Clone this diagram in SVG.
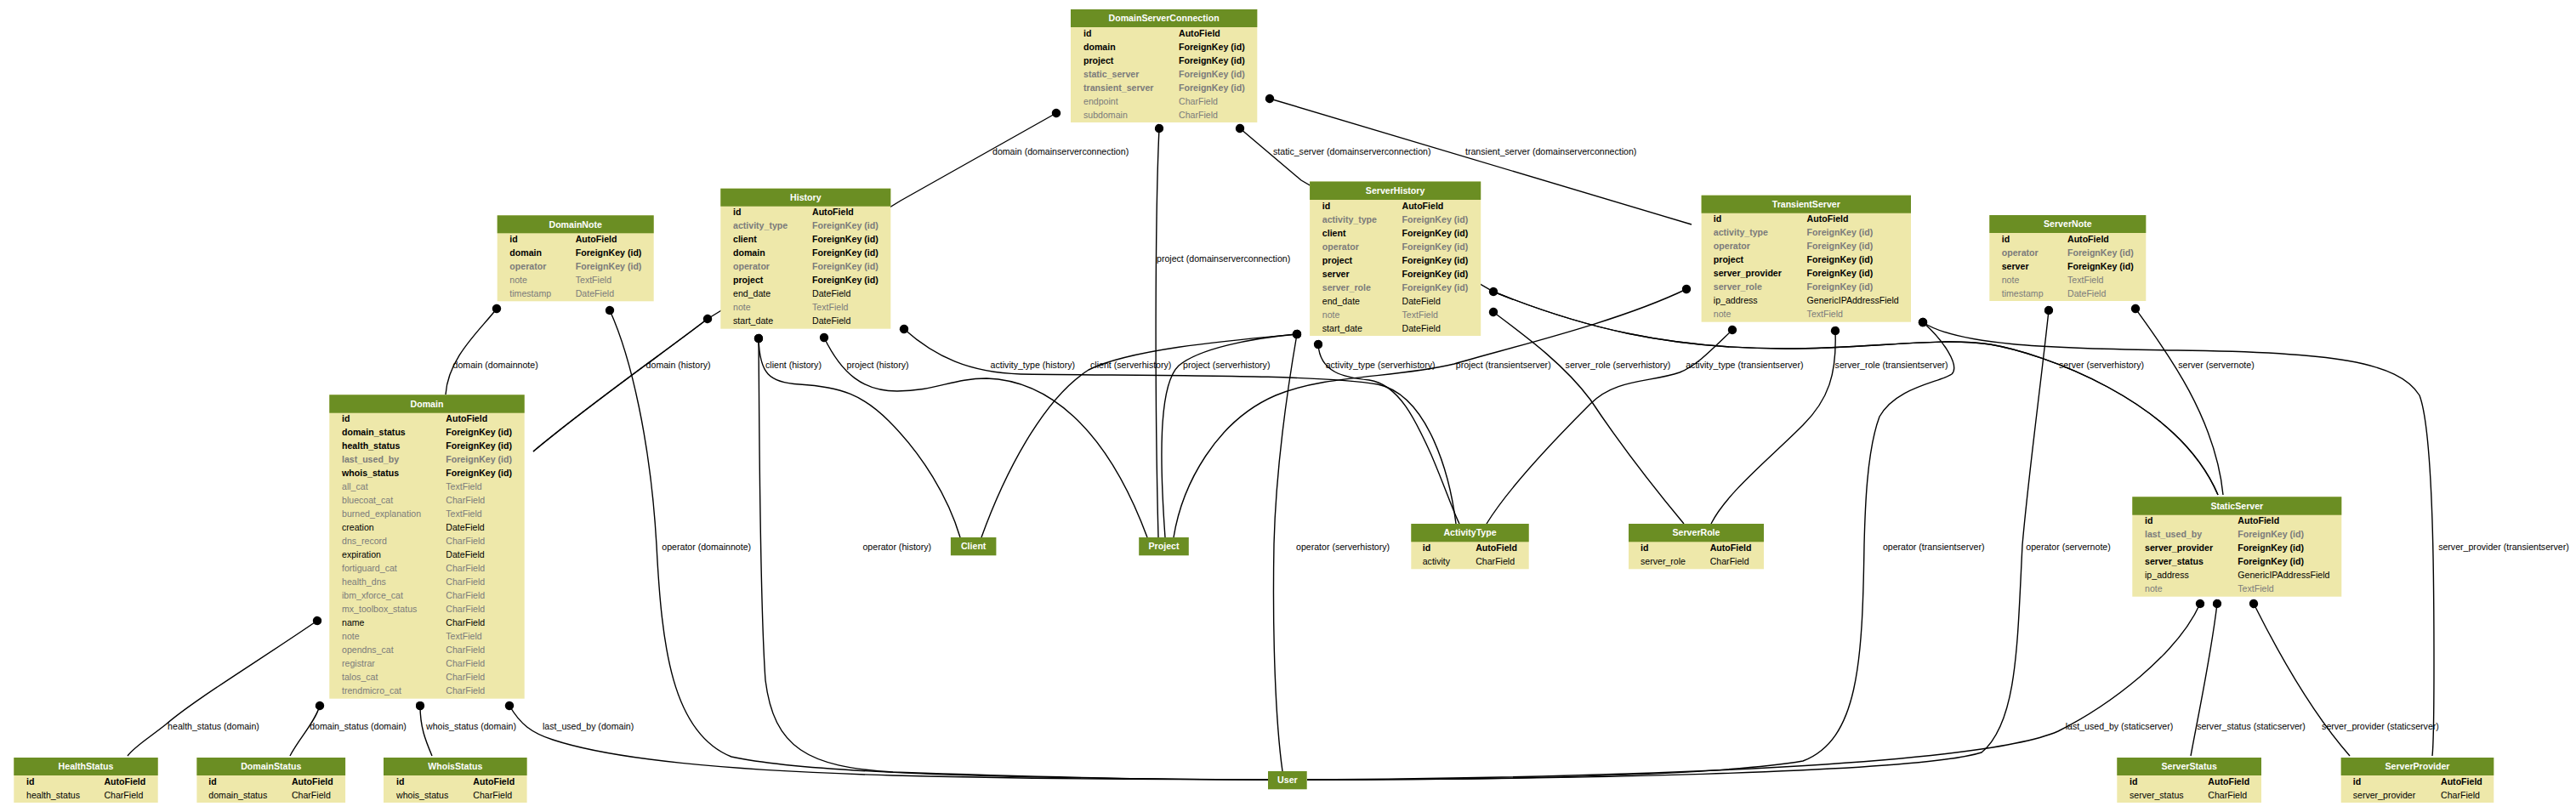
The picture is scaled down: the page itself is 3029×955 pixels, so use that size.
<svg xmlns="http://www.w3.org/2000/svg" width="3029" height="955" viewBox="0 0 3029 955">
<style>
text{font-family:"Liberation Sans",Arial,Helvetica,sans-serif;font-size:10.6px}
.h{fill:#6b8e23}
.b{fill:#eee8aa}
.ht{fill:#fff;font-weight:bold;text-anchor:middle}
.k{fill:#000;font-weight:bold}
.kg{fill:#7b7b7b;font-weight:bold}
.n{fill:#000}
.g{fill:#7b7b7b}
.lbl{fill:#000}
.m{text-anchor:middle}
.en{text-anchor:end}
.e{fill:none;stroke:#000;stroke-width:1.4;marker-start:url(#dot)}
.e2{fill:none;stroke:#000;stroke-width:1.4}
</style>
<defs>
<marker id="dot" viewBox="-5.5 -5.5 11 11" markerWidth="11" markerHeight="11" markerUnits="userSpaceOnUse" refX="0" refY="0" orient="auto"><circle r="5.2" fill="#000"/></marker>
</defs>
<rect width="3029" height="955" fill="#fff"/>
<g id="connectors">
<path class="e" d="M1242,133 L1059,236 L832,375 C780,415 690,478 627,531"/>
<path class="e" d="M1363,151 C1358,260 1358,480 1362,632"/>
<path class="e" d="M1458,151 L1530,212 L1756,343 C1860,385 1960,410 2100,410 C2200,410 2280,396 2340,405 C2400,415 2560,470 2608,582"/>
<path class="e" d="M1493,116 L1989,264"/>
<path class="e" d="M832,375 C780,415 690,478 627,531"/>
<path class="e" d="M892,398 C893,440 905,450 940,452 C990,455 1015,465 1045,495 C1085,535 1115,585 1129,632"/>
<path class="e" d="M969,397 C990,440 1015,460 1055,460 C1100,460 1120,445 1160,445 C1230,447 1300,500 1349,632"/>
<path class="e" d="M1063,387 C1100,420 1140,438 1200,440 C1350,442 1550,440 1620,452 C1680,465 1705,560 1712,616"/>
<path class="e" d="M892,398 C893,500 893,700 900,800 C910,880 950,902 1050,908 C1250,915 1400,917 1491,917"/>
<path class="e" d="M584,363 C565,388 527,420 524,464"/>
<path class="e" d="M717,365 C742,420 765,520 772,641 C778,760 790,862 860,890 C960,912 1250,916 1491,917"/>
<path class="e" d="M1525,393 C1450,400 1330,410 1280,435 C1225,470 1180,560 1154,632"/>
<path class="e" d="M1525,393 C1470,398 1410,410 1386,430 C1365,450 1362,520 1370,632"/>
<path class="e" d="M1525,393 C1510,480 1500,560 1498,640 C1496,750 1500,850 1508,907"/>
<path class="e" d="M1550,405 C1552,438 1580,444 1610,447 C1645,452 1665,495 1683,535 C1700,575 1708,600 1716,616"/>
<path class="e" d="M1756,343 C1860,385 1960,410 2100,410 C2200,410 2280,396 2340,405 C2400,415 2560,470 2608,582"/>
<path class="e" d="M1756,367 C1800,400 1840,430 1870,470 C1910,530 1950,580 1980,616"/>
<path class="e" d="M1983,340 C1900,380 1770,410 1710,428 C1640,445 1560,440 1500,465 C1430,495 1390,570 1380,632"/>
<path class="e" d="M2037,388 C2012,412 1995,430 1975,438 C1940,450 1900,445 1870,475 C1820,525 1770,580 1748,616"/>
<path class="e" d="M2158,389 C2160,440 2150,470 2120,500 C2080,540 2030,580 2012,616"/>
<path class="e" d="M2261,379 C2285,400 2305,430 2295,440 C2280,450 2230,455 2210,490 C2195,530 2193,600 2192,641 C2190,780 2185,870 2120,895 C2000,915 1700,917 1537,917"/>
<path class="e" d="M2261,379 C2300,405 2400,410 2560,412 C2740,414 2820,425 2845,465 C2862,510 2862,700 2862,780 C2862,840 2862,870 2860,889"/>
<path class="e" d="M2409,365 C2400,450 2385,560 2378,641 C2372,760 2372,850 2330,885 C2250,910 1800,917 1537,917"/>
<path class="e" d="M2511,363 C2545,410 2605,490 2614,582"/>
<path class="e" d="M373,730 C300,780 230,822 195,852 C175,868 158,878 150,889"/>
<path class="e" d="M376,830 C370,850 352,868 341,889"/>
<path class="e" d="M494,830 C494,855 500,870 508,889"/>
<path class="e" d="M599,830 C612,852 625,862 650,870 C720,893 850,906 1050,912 C1250,917 1400,917 1491,917"/>
<path class="e" d="M2587,710 C2560,770 2480,830 2420,860 C2340,895 2000,914 1537,917"/>
<path class="e" d="M2607,710 C2600,770 2585,840 2576,889"/>
<path class="e" d="M2650,710 C2680,770 2720,840 2763,889"/>
</g>
<g id="edge-labels" class="lbl">
<text x="1167" y="182.3">domain (domainserverconnection)</text>
<text x="1497" y="182.3">static_server (domainserverconnection)</text>
<text x="1723" y="182.3">transient_server (domainserverconnection)</text>
<text x="1360" y="308.1">project (domainserverconnection)</text>
<text class="en" x="632.7" y="433.1">domain (domainnote)</text>
<text x="759.6" y="433.1">domain (history)</text>
<text x="900" y="433.1">client (history)</text>
<text x="995.6" y="433.1">project (history)</text>
<text x="1164.6" y="433.1">activity_type (history)</text>
<text x="1282" y="433.1">client (serverhistory)</text>
<text x="1391" y="433.1">project (serverhistory)</text>
<text class="en" x="1687.6" y="433.1">activity_type (serverhistory)</text>
<text x="1711.8" y="433.1">project (transientserver)</text>
<text x="1840.6" y="433.1">server_role (serverhistory)</text>
<text x="1982.2" y="433.1">activity_type (transientserver)</text>
<text x="2157.6" y="433.1">server_role (transientserver)</text>
<text x="2421" y="433.1">server (serverhistory)</text>
<text class="m" x="2606" y="433.1">server (servernote)</text>
<text class="m" x="830.7" y="646.8">operator (domainnote)</text>
<text class="m" x="1054.8" y="646.8">operator (history)</text>
<text x="1524" y="646.8">operator (serverhistory)</text>
<text class="m" x="2273.7" y="646.8">operator (transientserver)</text>
<text class="m" x="2432" y="646.8">operator (servernote)</text>
<text class="m" x="2944" y="646.8">server_provider (transientserver)</text>
<text class="m" x="251" y="857.7">health_status (domain)</text>
<text class="m" x="421" y="857.7">domain_status (domain)</text>
<text class="m" x="554" y="857.7">whois_status (domain)</text>
<text class="m" x="691.6" y="857.7">last_used_by (domain)</text>
<text class="m" x="2492" y="857.7">last_used_by (staticserver)</text>
<text class="m" x="2647" y="857.7">server_status (staticserver)</text>
<text class="m" x="2799" y="857.7">server_provider (staticserver)</text>
</g>
<g id="DomainServerConnection">
<rect class="b" x="1259" y="11" width="219.3" height="133"/>
<rect class="h" x="1259" y="11" width="219.3" height="21"/>
<text class="ht" x="1368.6" y="25.2">DomainServerConnection</text>
<text class="k" x="1274" y="43.1">id</text><text class="k" x="1386" y="43.1">AutoField</text>
<text class="k" x="1274" y="59.1">domain</text><text class="k" x="1386" y="59.1">ForeignKey (id)</text>
<text class="k" x="1274" y="75.1">project</text><text class="k" x="1386" y="75.1">ForeignKey (id)</text>
<text class="kg" x="1274" y="91.1">static_server</text><text class="kg" x="1386" y="91.1">ForeignKey (id)</text>
<text class="kg" x="1274" y="107.1">transient_server</text><text class="kg" x="1386" y="107.1">ForeignKey (id)</text>
<text class="g" x="1274" y="123.1">endpoint</text><text class="g" x="1386" y="123.1">CharField</text>
<text class="g" x="1274" y="139.1">subdomain</text><text class="g" x="1386" y="139.1">CharField</text>
</g>
<g id="History">
<rect class="b" x="847.3" y="221.7" width="200" height="165"/>
<rect class="h" x="847.3" y="221.7" width="200" height="21"/>
<text class="ht" x="947.3" y="235.9">History</text>
<text class="k" x="862" y="253.3">id</text><text class="k" x="955" y="253.3">AutoField</text>
<text class="kg" x="862" y="269.3">activity_type</text><text class="kg" x="955" y="269.3">ForeignKey (id)</text>
<text class="k" x="862" y="285.3">client</text><text class="k" x="955" y="285.3">ForeignKey (id)</text>
<text class="k" x="862" y="301.3">domain</text><text class="k" x="955" y="301.3">ForeignKey (id)</text>
<text class="kg" x="862" y="317.3">operator</text><text class="kg" x="955" y="317.3">ForeignKey (id)</text>
<text class="k" x="862" y="333.3">project</text><text class="k" x="955" y="333.3">ForeignKey (id)</text>
<text class="n" x="862" y="349.3">end_date</text><text class="n" x="955" y="349.3">DateField</text>
<text class="g" x="862" y="365.3">note</text><text class="g" x="955" y="365.3">TextField</text>
<text class="n" x="862" y="381.3">start_date</text><text class="n" x="955" y="381.3">DateField</text>
</g>
<g id="DomainNote">
<rect class="b" x="584.7" y="253.3" width="184" height="101"/>
<rect class="h" x="584.7" y="253.3" width="184" height="21"/>
<text class="ht" x="676.7" y="267.5">DomainNote</text>
<text class="k" x="599.3" y="284.9">id</text><text class="k" x="676.7" y="284.9">AutoField</text>
<text class="k" x="599.3" y="300.9">domain</text><text class="k" x="676.7" y="300.9">ForeignKey (id)</text>
<text class="kg" x="599.3" y="316.9">operator</text><text class="kg" x="676.7" y="316.9">ForeignKey (id)</text>
<text class="g" x="599.3" y="332.9">note</text><text class="g" x="676.7" y="332.9">TextField</text>
<text class="g" x="599.3" y="348.9">timestamp</text><text class="g" x="676.7" y="348.9">DateField</text>
</g>
<g id="ServerHistory">
<rect class="b" x="1540.1" y="213.5" width="201.1" height="181.5"/>
<rect class="h" x="1540.1" y="213.5" width="201.1" height="21.5"/>
<text class="ht" x="1640.6" y="227.9">ServerHistory</text>
<text class="k" x="1554.8" y="245.6">id</text><text class="k" x="1648.5" y="245.6">AutoField</text>
<text class="kg" x="1554.8" y="261.6">activity_type</text><text class="kg" x="1648.5" y="261.6">ForeignKey (id)</text>
<text class="k" x="1554.8" y="277.6">client</text><text class="k" x="1648.5" y="277.6">ForeignKey (id)</text>
<text class="kg" x="1554.8" y="293.6">operator</text><text class="kg" x="1648.5" y="293.6">ForeignKey (id)</text>
<text class="k" x="1554.8" y="309.6">project</text><text class="k" x="1648.5" y="309.6">ForeignKey (id)</text>
<text class="k" x="1554.8" y="325.6">server</text><text class="k" x="1648.5" y="325.6">ForeignKey (id)</text>
<text class="kg" x="1554.8" y="341.6">server_role</text><text class="kg" x="1648.5" y="341.6">ForeignKey (id)</text>
<text class="n" x="1554.8" y="357.6">end_date</text><text class="n" x="1648.5" y="357.6">DateField</text>
<text class="g" x="1554.8" y="373.6">note</text><text class="g" x="1648.5" y="373.6">TextField</text>
<text class="n" x="1554.8" y="389.6">start_date</text><text class="n" x="1648.5" y="389.6">DateField</text>
</g>
<g id="TransientServer">
<rect class="b" x="2000.6" y="229.7" width="246.4" height="149"/>
<rect class="h" x="2000.6" y="229.7" width="246.4" height="21"/>
<text class="ht" x="2123.8" y="243.9">TransientServer</text>
<text class="k" x="2014.8" y="261.3">id</text><text class="k" x="2124.6" y="261.3">AutoField</text>
<text class="kg" x="2014.8" y="277.3">activity_type</text><text class="kg" x="2124.6" y="277.3">ForeignKey (id)</text>
<text class="kg" x="2014.8" y="293.3">operator</text><text class="kg" x="2124.6" y="293.3">ForeignKey (id)</text>
<text class="k" x="2014.8" y="309.3">project</text><text class="k" x="2124.6" y="309.3">ForeignKey (id)</text>
<text class="k" x="2014.8" y="325.3">server_provider</text><text class="k" x="2124.6" y="325.3">ForeignKey (id)</text>
<text class="kg" x="2014.8" y="341.3">server_role</text><text class="kg" x="2124.6" y="341.3">ForeignKey (id)</text>
<text class="n" x="2014.8" y="357.3">ip_address</text><text class="n" x="2124.6" y="357.3">GenericIPAddressField</text>
<text class="g" x="2014.8" y="373.3">note</text><text class="g" x="2124.6" y="373.3">TextField</text>
</g>
<g id="ServerNote">
<rect class="b" x="2339.3" y="253" width="184" height="101"/>
<rect class="h" x="2339.3" y="253" width="184" height="21"/>
<text class="ht" x="2431.3" y="267.2">ServerNote</text>
<text class="k" x="2353.7" y="284.6">id</text><text class="k" x="2431" y="284.6">AutoField</text>
<text class="kg" x="2353.7" y="300.6">operator</text><text class="kg" x="2431" y="300.6">ForeignKey (id)</text>
<text class="k" x="2353.7" y="316.6">server</text><text class="k" x="2431" y="316.6">ForeignKey (id)</text>
<text class="g" x="2353.7" y="332.6">note</text><text class="g" x="2431" y="332.6">TextField</text>
<text class="g" x="2353.7" y="348.6">timestamp</text><text class="g" x="2431" y="348.6">DateField</text>
</g>
<g id="Domain">
<rect class="b" x="387.3" y="464.3" width="229.4" height="357.4"/>
<rect class="h" x="387.3" y="464.3" width="229.4" height="21.4"/>
<text class="ht" x="502" y="478.6">Domain</text>
<text class="k" x="402" y="496.3">id</text><text class="k" x="524.3" y="496.3">AutoField</text>
<text class="k" x="402" y="512.3">domain_status</text><text class="k" x="524.3" y="512.3">ForeignKey (id)</text>
<text class="k" x="402" y="528.3">health_status</text><text class="k" x="524.3" y="528.3">ForeignKey (id)</text>
<text class="kg" x="402" y="544.3">last_used_by</text><text class="kg" x="524.3" y="544.3">ForeignKey (id)</text>
<text class="k" x="402" y="560.3">whois_status</text><text class="k" x="524.3" y="560.3">ForeignKey (id)</text>
<text class="g" x="402" y="576.3">all_cat</text><text class="g" x="524.3" y="576.3">TextField</text>
<text class="g" x="402" y="592.3">bluecoat_cat</text><text class="g" x="524.3" y="592.3">CharField</text>
<text class="g" x="402" y="608.3">burned_explanation</text><text class="g" x="524.3" y="608.3">TextField</text>
<text class="n" x="402" y="624.3">creation</text><text class="n" x="524.3" y="624.3">DateField</text>
<text class="g" x="402" y="640.3">dns_record</text><text class="g" x="524.3" y="640.3">CharField</text>
<text class="n" x="402" y="656.3">expiration</text><text class="n" x="524.3" y="656.3">DateField</text>
<text class="g" x="402" y="672.3">fortiguard_cat</text><text class="g" x="524.3" y="672.3">CharField</text>
<text class="g" x="402" y="688.3">health_dns</text><text class="g" x="524.3" y="688.3">CharField</text>
<text class="g" x="402" y="704.3">ibm_xforce_cat</text><text class="g" x="524.3" y="704.3">CharField</text>
<text class="g" x="402" y="720.3">mx_toolbox_status</text><text class="g" x="524.3" y="720.3">CharField</text>
<text class="n" x="402" y="736.3">name</text><text class="n" x="524.3" y="736.3">CharField</text>
<text class="g" x="402" y="752.3">note</text><text class="g" x="524.3" y="752.3">TextField</text>
<text class="g" x="402" y="768.3">opendns_cat</text><text class="g" x="524.3" y="768.3">CharField</text>
<text class="g" x="402" y="784.3">registrar</text><text class="g" x="524.3" y="784.3">CharField</text>
<text class="g" x="402" y="800.3">talos_cat</text><text class="g" x="524.3" y="800.3">CharField</text>
<text class="g" x="402" y="816.3">trendmicro_cat</text><text class="g" x="524.3" y="816.3">CharField</text>
</g>
<g id="StaticServer">
<rect class="b" x="2507.3" y="584.3" width="246" height="117.4"/>
<rect class="h" x="2507.3" y="584.3" width="246" height="21.4"/>
<text class="ht" x="2630.3" y="598.6">StaticServer</text>
<text class="k" x="2522" y="616.3">id</text><text class="k" x="2631.3" y="616.3">AutoField</text>
<text class="kg" x="2522" y="632.3">last_used_by</text><text class="kg" x="2631.3" y="632.3">ForeignKey (id)</text>
<text class="k" x="2522" y="648.3">server_provider</text><text class="k" x="2631.3" y="648.3">ForeignKey (id)</text>
<text class="k" x="2522" y="664.3">server_status</text><text class="k" x="2631.3" y="664.3">ForeignKey (id)</text>
<text class="n" x="2522" y="680.3">ip_address</text><text class="n" x="2631.3" y="680.3">GenericIPAddressField</text>
<text class="g" x="2522" y="696.3">note</text><text class="g" x="2631.3" y="696.3">TextField</text>
</g>
<g id="ActivityType">
<rect class="b" x="1659.3" y="616" width="138.4" height="53.3"/>
<rect class="h" x="1659.3" y="616" width="138.4" height="21.3"/>
<text class="ht" x="1728.5" y="630.3">ActivityType</text>
<text class="k" x="1672.7" y="647.9">id</text><text class="k" x="1735.2" y="647.9">AutoField</text>
<text class="n" x="1672.7" y="663.9">activity</text><text class="n" x="1735.2" y="663.9">CharField</text>
</g>
<g id="ServerRole">
<rect class="b" x="1915" y="616" width="159" height="53.3"/>
<rect class="h" x="1915" y="616" width="159" height="21.3"/>
<text class="ht" x="1994.5" y="630.3">ServerRole</text>
<text class="k" x="1929" y="647.9">id</text><text class="k" x="2010.7" y="647.9">AutoField</text>
<text class="n" x="1929" y="663.9">server_role</text><text class="n" x="2010.7" y="663.9">CharField</text>
</g>
<g id="Client">
<rect class="h" x="1117.9" y="632" width="53.5" height="21.3"/>
<text class="ht" x="1144.7" y="646.4">Client</text>
</g>
<g id="Project">
<rect class="h" x="1339.2" y="632" width="58.6" height="21.3"/>
<text class="ht" x="1368.5" y="646.4">Project</text>
</g>
<g id="User">
<rect class="h" x="1491" y="907" width="45.7" height="21.3"/>
<text class="ht" x="1513.9" y="921.4">User</text>
</g>
<g id="HealthStatus">
<rect class="b" x="16.3" y="891" width="169.4" height="53"/>
<rect class="h" x="16.3" y="891" width="169.4" height="21"/>
<text class="ht" x="101" y="905.2">HealthStatus</text>
<text class="k" x="31" y="922.6">id</text><text class="k" x="122.4" y="922.6">AutoField</text>
<text class="n" x="31" y="938.6">health_status</text><text class="n" x="122.4" y="938.6">CharField</text>
</g>
<g id="DomainStatus">
<rect class="b" x="231.4" y="891" width="174.7" height="53"/>
<rect class="h" x="231.4" y="891" width="174.7" height="21"/>
<text class="ht" x="318.8" y="905.2">DomainStatus</text>
<text class="k" x="245.3" y="922.6">id</text><text class="k" x="342.9" y="922.6">AutoField</text>
<text class="n" x="245.3" y="938.6">domain_status</text><text class="n" x="342.9" y="938.6">CharField</text>
</g>
<g id="WhoisStatus">
<rect class="b" x="451" y="891" width="168.6" height="53"/>
<rect class="h" x="451" y="891" width="168.6" height="21"/>
<text class="ht" x="535.3" y="905.2">WhoisStatus</text>
<text class="k" x="466" y="922.6">id</text><text class="k" x="556.3" y="922.6">AutoField</text>
<text class="n" x="466" y="938.6">whois_status</text><text class="n" x="556.3" y="938.6">CharField</text>
</g>
<g id="ServerStatus">
<rect class="b" x="2489.3" y="891" width="169.7" height="53"/>
<rect class="h" x="2489.3" y="891" width="169.7" height="21"/>
<text class="ht" x="2574.2" y="905.2">ServerStatus</text>
<text class="k" x="2504" y="922.6">id</text><text class="k" x="2596.3" y="922.6">AutoField</text>
<text class="n" x="2504" y="938.6">server_status</text><text class="n" x="2596.3" y="938.6">CharField</text>
</g>
<g id="ServerProvider">
<rect class="b" x="2752.7" y="891" width="179.6" height="53"/>
<rect class="h" x="2752.7" y="891" width="179.6" height="21"/>
<text class="ht" x="2842.5" y="905.2">ServerProvider</text>
<text class="k" x="2766.7" y="922.6">id</text><text class="k" x="2870" y="922.6">AutoField</text>
<text class="n" x="2766.7" y="938.6">server_provider</text><text class="n" x="2870" y="938.6">CharField</text>
</g>
</svg>
